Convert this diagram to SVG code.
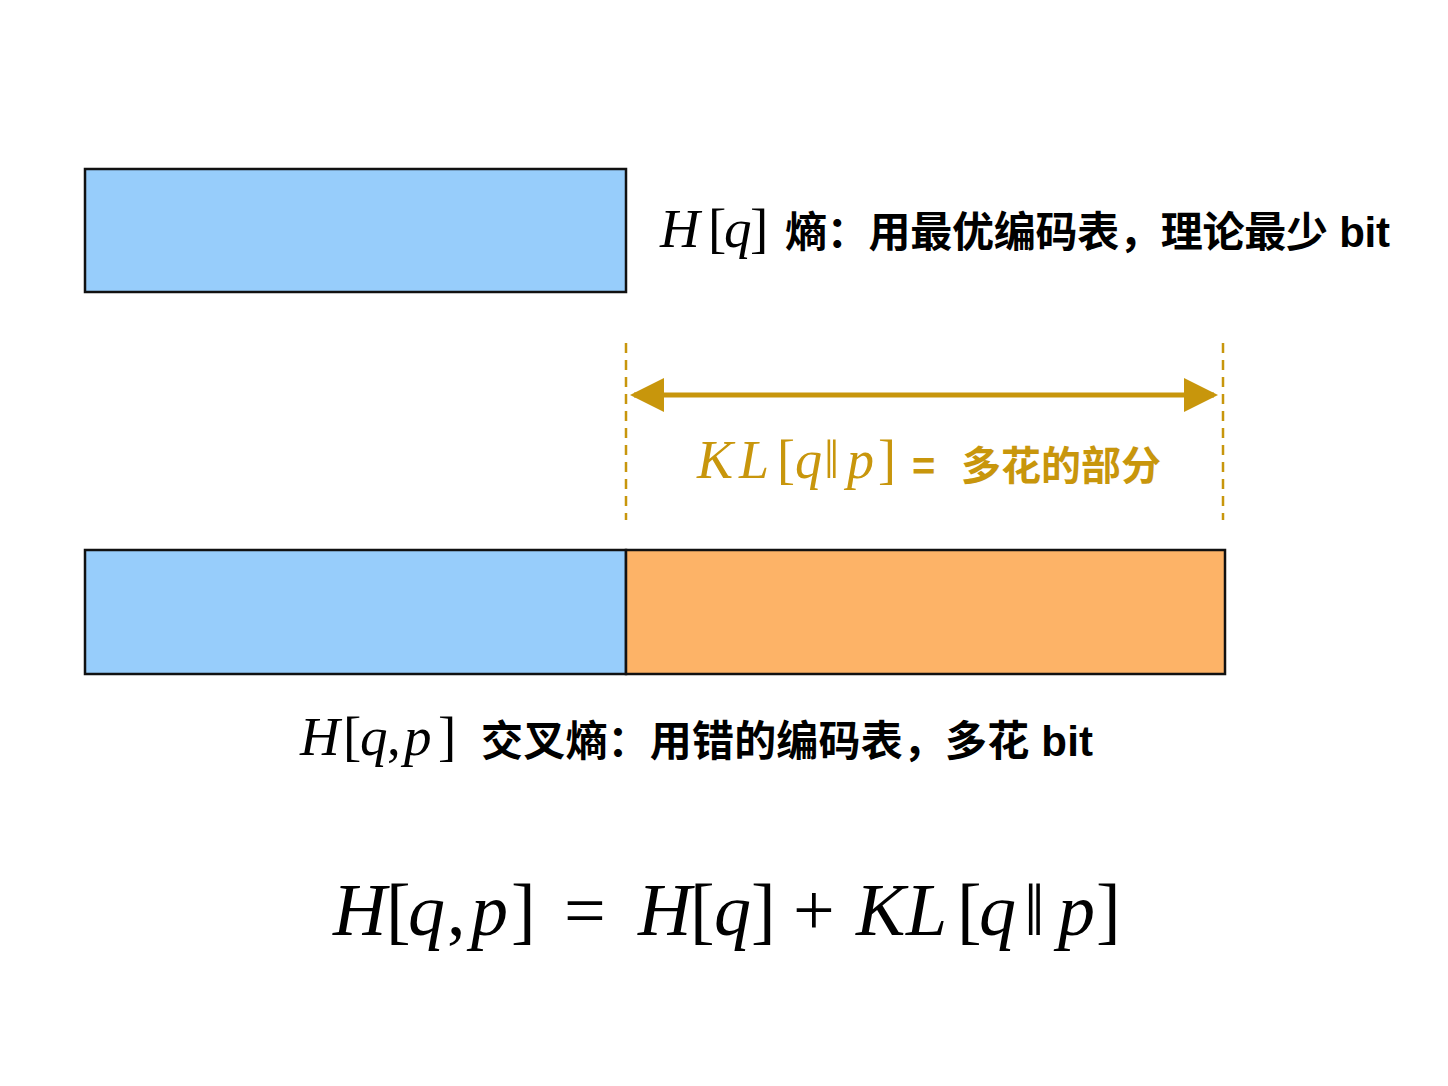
<svg xmlns="http://www.w3.org/2000/svg" width="1448" height="1086" viewBox="0 0 1448 1086">
<style>
.box{stroke:#111;stroke-width:2.5}
.blue{fill:#97CDFB}
.orange{fill:#FDB367}
.m{font-family:"Liberation Serif","Times New Roman",serif;font-style:italic}
.u{font-style:normal}
.cjk{font-family:"Liberation Sans","Noto Sans CJK SC",sans-serif;font-weight:bold}
.gold{fill:#C8960C}
.dash{stroke:#C8960C;stroke-width:2.5;stroke-dasharray:10 7;fill:none}
</style>
<defs>
<marker id="ah" viewBox="0 0 34 34" refX="30" refY="17" markerWidth="34" markerHeight="34" markerUnits="userSpaceOnUse" orient="auto-start-reverse">
<path d="M0,0 L34,17 L0,34 Z" fill="#C8960C"/>
</marker>
</defs>
<rect width="1448" height="1086" fill="#fff"/>
<g id="entropy-bar">
<rect class="box blue" x="85" y="169" width="541" height="123"/>
</g>
<g id="entropy-label">
<text class="m" y="247" font-size="55"><tspan x="660">H</tspan><tspan class="u" x="708">[</tspan><tspan x="724">q</tspan><tspan class="u" x="750">]</tspan></text>
<text class="cjk" x="785" y="247" font-size="42" textLength="605" lengthAdjust="spacing">熵：用最优编码表，理论最少 bit</text>
</g>
<g id="cross-entropy-bar">
<rect class="box blue" x="85" y="550" width="541" height="124"/>
<rect class="box orange" x="626" y="550" width="599" height="124"/>
</g>
<g id="cross-entropy-label">
<text class="m" y="755" font-size="55"><tspan x="300">H</tspan><tspan class="u" x="343">[</tspan><tspan x="360">q</tspan><tspan class="u" x="387">,</tspan><tspan x="404">p</tspan><tspan class="u" x="438">]</tspan></text>
<text class="cjk" x="481" y="756" font-size="42" textLength="612" lengthAdjust="spacing">交叉熵：用错的编码表，多花 bit</text>
</g>
<g id="connectors">
<line class="dash" x1="626" y1="343" x2="626" y2="520"/>
<line class="dash" x1="1223" y1="343" x2="1223" y2="520"/>
<line x1="634" y1="395" x2="1214" y2="395" stroke="#C8960C" stroke-width="5" marker-start="url(#ah)" marker-end="url(#ah)"/>
</g>
<g id="kl-label">
<text class="m gold" y="478" font-size="54"><tspan x="697">K</tspan><tspan x="739">L</tspan><tspan class="u" x="777">[</tspan><tspan x="795">q</tspan><tspan class="u" x="824">‖</tspan><tspan x="847">p</tspan><tspan class="u" x="878">]</tspan></text>
<text class="cjk gold" x="912" y="480" font-size="40">=</text>
<text class="cjk gold" x="961" y="480" font-size="40" textLength="200" lengthAdjust="spacing">多花的部分</text>
</g>
<g id="formula">
<text class="m" y="935" font-size="74"><tspan x="333">H</tspan><tspan class="u" x="386">[</tspan><tspan x="408">q</tspan><tspan class="u" x="447">,</tspan><tspan x="471">p</tspan><tspan class="u" x="511">]</tspan><tspan class="u" x="564">=</tspan><tspan x="638">H</tspan><tspan class="u" x="690">[</tspan><tspan x="714">q</tspan><tspan class="u" x="751">]</tspan><tspan class="u" x="793">+</tspan><tspan x="856">K</tspan><tspan x="906">L</tspan><tspan class="u" x="957">[</tspan><tspan x="979">q</tspan><tspan class="u" x="1024">‖</tspan><tspan x="1058">p</tspan><tspan class="u" x="1096">]</tspan></text>
</g>
</svg>
